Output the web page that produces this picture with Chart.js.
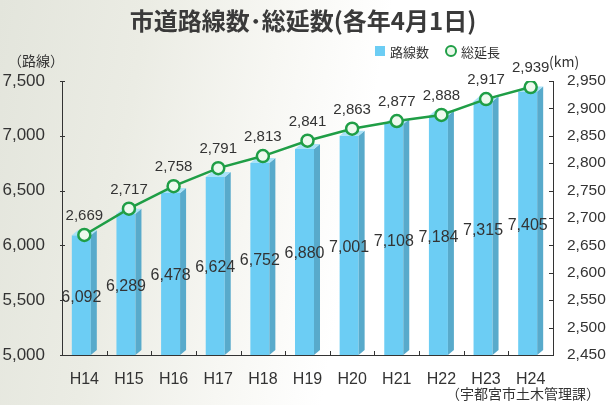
<!DOCTYPE html>
<html lang="ja">
<head>
<meta charset="utf-8">
<script src="https://cdn.jsdelivr.net/npm/chart.js@4.4.1/dist/chart.umd.min.js"></script>
<style>
  html, body { margin: 0; padding: 0; }
  body { width: 606px; height: 405px; overflow: hidden; }
  #wrap {
    position: relative; width: 606px; height: 405px;
    background: linear-gradient(100deg, #e3e5dc 0%, #ebece4 22%, #f7f7f3 42%, #ffffff 58%);
    font-family: "Liberation Sans", Arial, "Noto Sans CJK JP", sans-serif;
    color: #333;
  }
  #chart { position: absolute; left: 0; top: 0; }
  .txt { position: absolute; white-space: nowrap; }
  #title { left: 0; width: 606px; top: 2px; text-align: center; font-size: 24px; font-weight: bold; color: #3a3a3a;
    font-family: "Noto Sans CJK JP", sans-serif; }
  #legend { left: 375px; top: 40px; font-size: 13px; font-family: "Noto Sans CJK JP", sans-serif; }
  #legend span { display: inline-block; vertical-align: middle; }
  .sq { width: 10px; height: 10px; background: #6ccdf4; margin-right: 5px; }
  .ci { width: 8px; height: 8px; border: 2.5px solid #1f9e46; border-radius: 50%; background: #eaf7ea; margin-left: 16px; margin-right: 4px; }
  #unitL { left: 8px; top: 50px; font-size: 14px; font-family: "Noto Sans CJK JP", sans-serif; }
  #unitR { left: 549px; top: 51px; font-size: 14px; font-family: "Noto Sans CJK JP", sans-serif; }
  #source { right: 6px; top: 383px; font-size: 14px; font-family: "Noto Sans CJK JP", sans-serif; }
</style>
</head>
<body>
<div id="wrap">
  <canvas id="chart" width="606" height="405"></canvas>
  <div class="txt" id="title">市道路線数･総延数(各年4月1日)</div>
  <div class="txt" id="legend"><span class="sq"></span><span>路線数</span><span class="ci"></span><span>総延長</span></div>
  <div class="txt" id="unitL">（路線）</div>
  <div class="txt" id="unitR">(km)</div>
  <div class="txt" id="source">（宇都宮市土木管理課）</div>
</div>
<script>
// 各年4月1日時点
const years = ['H14', 'H15', 'H16', 'H17', 'H18', 'H19', 'H20', 'H21', 'H22', 'H23', 'H24'];
const routeCounts = [6092, 6289, 6478, 6624, 6752, 6880, 7001, 7108, 7184, 7315, 7405];
const totalKm = [2669, 2717, 2758, 2791, 2813, 2841, 2863, 2877, 2888, 2917, 2939];
const leftTicks = [5000, 5500, 6000, 6500, 7000, 7500];
const rightTicks = [2450, 2500, 2550, 2600, 2650, 2700, 2750, 2800, 2850, 2900, 2950];

const FRONT = '#6ccdf4', SIDE = '#58aacb', TOP = '#a9e2f8', GREEN = '#1f9e46';
const fmt = v => v.toLocaleString('en-US');

const bar3d = {
    id: 'bar3d',
    afterDatasetDraw(chart, args) {
        if (args.index !== 0) return;
        const ctx = chart.ctx;
        const d = 6, dy = 5;
        const bottom = chart.chartArea.bottom;
        ctx.save();
        args.meta.data.forEach((el, i) => {
            const { x, y, width } = el.getProps(['x', 'y', 'width'], true);
            const base = bottom;
            const left = x - width / 2;
            const fr = x + width / 2 - d;
            ctx.fillStyle = FRONT;
            ctx.fillRect(left, y, fr - left, base - y);
            ctx.fillStyle = SIDE;
            ctx.beginPath();
            ctx.moveTo(fr, y); ctx.lineTo(fr + d, y - dy); ctx.lineTo(fr + d, base - dy); ctx.lineTo(fr, base);
            ctx.closePath(); ctx.fill();
            ctx.fillStyle = TOP;
            ctx.beginPath();
            ctx.moveTo(left, y); ctx.lineTo(left + d, y - dy); ctx.lineTo(fr + d, y - dy); ctx.lineTo(fr, y);
            ctx.closePath(); ctx.fill();
            // value label inside the bar
            ctx.fillStyle = '#333';
            ctx.font = '16px "Liberation Sans", Arial, sans-serif';
            ctx.textAlign = 'center';
            ctx.textBaseline = 'middle';
            ctx.fillText(fmt(routeCounts[i]), (left + fr) / 2, (y + base) / 2 + 2);
        });
        ctx.restore();
    },
    afterDatasetsDraw(chart) {
        const ctx = chart.ctx;
        const meta = chart.getDatasetMeta(1);
        ctx.save();
        ctx.fillStyle = '#333';
        ctx.font = '15px "Liberation Sans", Arial, sans-serif';
        ctx.textAlign = 'center';
        ctx.textBaseline = 'middle';
        meta.data.forEach((pt, i) => {
            ctx.fillText(fmt(totalKm[i]), pt.x, pt.y - 19);
        });

        // tick marks drawn inside the axes
        const { left, right, bottom } = chart.chartArea;
        const yL = chart.scales.y, yR = chart.scales.y1, xs = chart.scales.x;
        ctx.strokeStyle = '#333';
        ctx.lineWidth = 1;
        ctx.beginPath();
        leftTicks.forEach(v => {
            const p = Math.round(yL.getPixelForValue(v)) + 0.5;
            ctx.moveTo(left - 2, p); ctx.lineTo(left + 3, p);
        });
        rightTicks.forEach(v => {
            const p = Math.round(yR.getPixelForValue(v)) + 0.5;
            ctx.moveTo(right - 4, p); ctx.lineTo(right, p);
        });
        const step = (right - left) / years.length;
        for (let i = 1; i < years.length; i++) {
            const p = Math.round(xs.getPixelForValue(i) - step / 2) + 0.5;
            ctx.moveTo(p, bottom); ctx.lineTo(p, bottom - 4);
        }
        ctx.stroke();
        ctx.restore();
    }
};

const tickFamily = '"Liberation Sans", Arial, sans-serif';

new Chart(document.getElementById('chart'), {
    data: {
        labels: years,
        datasets: [{
            type: 'bar',
            label: '路線数',
            data: routeCounts,
            yAxisID: 'y',
            backgroundColor: 'rgba(0,0,0,0)',
            barPercentage: 0.56,
            categoryPercentage: 1,
            order: 1,
        }, {
            type: 'line',
            label: '総延長',
            data: totalKm,
            yAxisID: 'y1',
            borderColor: GREEN,
            borderWidth: 2.5,
            pointRadius: 6,
            pointBorderWidth: 2.5,
            pointBorderColor: GREEN,
            pointBackgroundColor: '#eef9ee',
            tension: 0,
            order: 0,
        }],
    },
    options: {
        responsive: false,
        devicePixelRatio: 1,
        animation: false,
        layout: { padding: { top: 81, left: 0, right: 0, bottom: 0 } },
        plugins: { legend: { display: false }, tooltip: { enabled: false } },
        scales: {
            x: {
                grid: { display: false },
                border: { display: true, color: '#333', width: 1 },
                ticks: { color: '#333', font: { family: tickFamily, size: 16 }, padding: 7 },
                afterFit: s => { s.height = 50; },
            },
            y: {
                position: 'left',
                min: 5000, max: 7500,
                grid: { display: false },
                border: { display: true, color: '#333', width: 1 },
                ticks: { stepSize: 500, color: '#333', font: { family: tickFamily, size: 17 }, padding: 9, callback: v => fmt(v) },
                afterFit: s => { s.width = 62; },
            },
            y1: {
                position: 'right',
                min: 2450, max: 2950,
                grid: { display: false },
                border: { display: true, color: '#333', width: 1 },
                ticks: { stepSize: 50, color: '#333', font: { family: tickFamily, size: 15.5 }, padding: 6, callback: v => fmt(v) },
                afterFit: s => { s.width = 53; },
            },
        },
    },
    plugins: [bar3d],
});
</script>
</body>
</html>
